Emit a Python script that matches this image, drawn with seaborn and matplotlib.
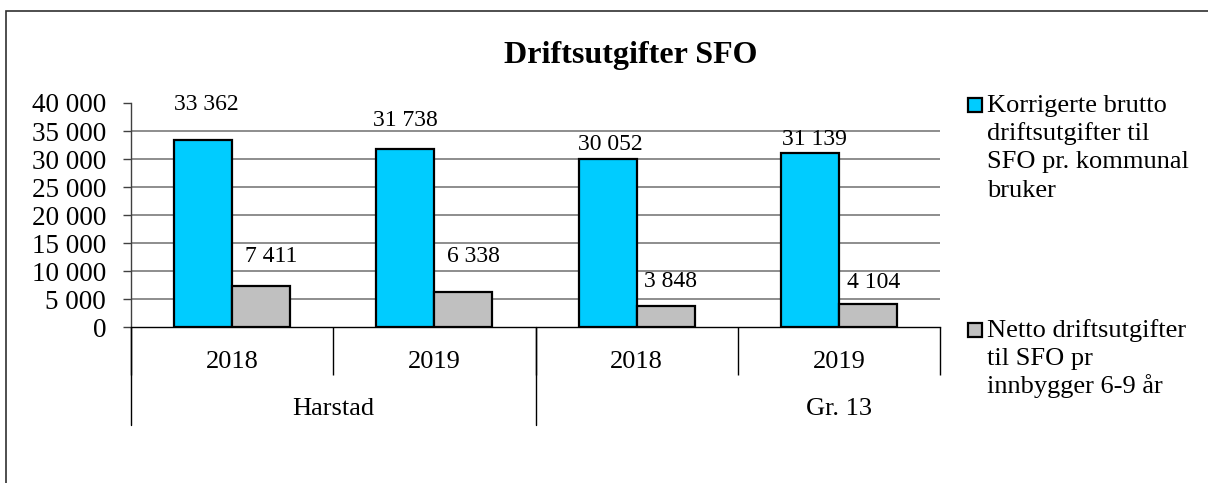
import matplotlib
matplotlib.use("Agg")
import matplotlib.pyplot as plt
import matplotlib.transforms as mtrans
from matplotlib.patches import Rectangle
from matplotlib.ticker import FixedLocator, FuncFormatter
import seaborn as sns
import pandas as pd

# ---------------- data ----------------
categories = ["2018", "2019", "2018", "2019"]
groups = ["Harstad", "Gr. 13"]
group_of_category = ["Harstad", "Harstad", "Gr. 13", "Gr. 13"]
series_names = [
    "Korrigerte brutto\ndriftsutgifter til\nSFO pr. kommunal\nbruker",
    "Netto driftsutgifter\ntil SFO pr\ninnbygger 6-9 år",
]
brutto = [33362, 31738, 30052, 31139]
netto = [7411, 6338, 3848, 4104]
y_ticks = [0, 5000, 10000, 15000, 20000, 25000, 30000, 35000, 40000]
title = "Driftsutgifter SFO"

# ---------------- styles ----------------
colors = ["#00CCFF", "#C0C0C0"]
# label offsets (pixels) relative to bar top centre, as placed in the original
brutto_dx = [3, 0, 3, 5]
brutto_dy = [36, 29, 14, 13]
netto_dx = [10, 10, 5, 6]
netto_dy = [29, 35, 24, 22]

sns.set_theme(style="white")
plt.rcParams["font.family"] = ["Liberation Serif", "DejaVu Serif"]

W, H = 1208, 483
fig = plt.figure(figsize=(W / 100, H / 100), dpi=100)
ax = fig.add_axes([131 / W, 1 - 327.3 / H, (940 - 131) / W, (327.3 - 103) / H])

keys = [f"{g} {c}" for g, c in zip(group_of_category, categories)]
df = pd.DataFrame({
    "key": keys * 2,
    "value": brutto + netto,
    "series": [series_names[0]] * 4 + [series_names[1]] * 4,
})

sns.barplot(data=df, x="key", y="value", hue="series", order=keys,
            hue_order=series_names, palette=colors, saturation=1,
            width=0.574, edgecolor="black", linewidth=1.6, ax=ax, legend=False)

ax.set_xlim(-0.5, 3.5)
ax.set_ylim(0, 40000)
ax.set_xlabel("")
ax.set_ylabel("")

# y axis
ax.yaxis.set_major_locator(FixedLocator(y_ticks))
ax.yaxis.set_major_formatter(FuncFormatter(lambda v, p: f"{int(v):,}".replace(",", " ")))
ax.tick_params(axis="y", which="major", left=True, length=6, width=1.0,
               color="#404040", direction="out", pad=12, labelsize=19.5,
               labelcolor="black")
ax.set_axisbelow(True)
ax.grid(axis="y", color="#7a7a7a", linewidth=1.2)
ax.grid(axis="x", visible=False)
gl = ax.get_ygridlines()
gl[-1].set_visible(False)
gl[0].set_visible(False)

for s in ["top", "right"]:
    ax.spines[s].set_visible(False)
ax.spines["left"].set_color("#404040")
ax.spines["left"].set_linewidth(1.0)
ax.spines["bottom"].set_color("black")
ax.spines["bottom"].set_linewidth(1.0)

# x axis: years as tick labels, separators as minor ticks
ax.set_xticks(range(len(categories)))
ax.set_xticklabels(categories)
ax.tick_params(axis="x", which="major", bottom=True, length=0, pad=17,
               labelsize=19, labelcolor="black")
ax.xaxis.set_minor_locator(FixedLocator([-0.5, 0.5, 1.5, 2.5, 3.5]))
ax.tick_params(axis="x", which="minor", bottom=True, length=34.5, width=1.0,
               color="black", direction="out")

# group separators (longer lines)
trans = mtrans.blended_transform_factory(ax.transData, ax.transAxes)
axh = 327.3 - 103
for xb in [-0.5, 1.5]:
    ax.plot([xb, xb], [0, -98 / axh], transform=trans, color="black",
            linewidth=1.0, clip_on=False)

# group labels
group_x = [0.5, 3.0]
for g, gx in zip(groups, group_x):
    ax.annotate(g, xy=(gx, 0), xycoords=trans, xytext=(0, -88),
                textcoords="offset pixels", ha="center", va="baseline",
                fontsize=19, color="black")

# data labels
for cont, vals, dxs, dys in zip(ax.containers, [brutto, netto],
                                [brutto_dx, netto_dx], [brutto_dy, netto_dy]):
    for bar, v, dx, dy in zip(cont, vals, dxs, dys):
        ax.annotate(f"{v:,}".replace(",", " "),
                    xy=(bar.get_x() + bar.get_width() / 2, bar.get_height()),
                    xytext=(dx, dy), textcoords="offset pixels",
                    ha="center", va="center", fontsize=17, color="black")

# title
fig.text(630.5 / W, 1 - 63.3 / H, title, ha="center", va="baseline",
         fontsize=23, fontweight="bold", color="black")

# legend (Excel style: marker beside the first line of each entry)
legend_top_baseline = [111.7, 336.7]
for name, col, yb in zip(series_names, colors, legend_top_baseline):
    fig.patches.append(Rectangle((968 / W, 1 - (yb + 0.5) / H), 14 / W, 14 / H,
                                 transform=fig.transFigure, facecolor=col,
                                 edgecolor="black", linewidth=1.6))
    first, *rest = name.split("\n")
    for i, line in enumerate(name.split("\n")):
        fig.text(987 / W, 1 - (yb + 28.3 * i) / H, line, ha="left",
                 va="baseline", fontsize=19, color="black")

# outer chart border (partly outside the image)
fig.patches.append(Rectangle((5.5 / W, -0.2), 1.2, 1.2 - 10.5 / H,
                             transform=fig.transFigure, fill=False,
                             edgecolor="#303030", linewidth=1.2))

fig.savefig("out.png", dpi=100)
